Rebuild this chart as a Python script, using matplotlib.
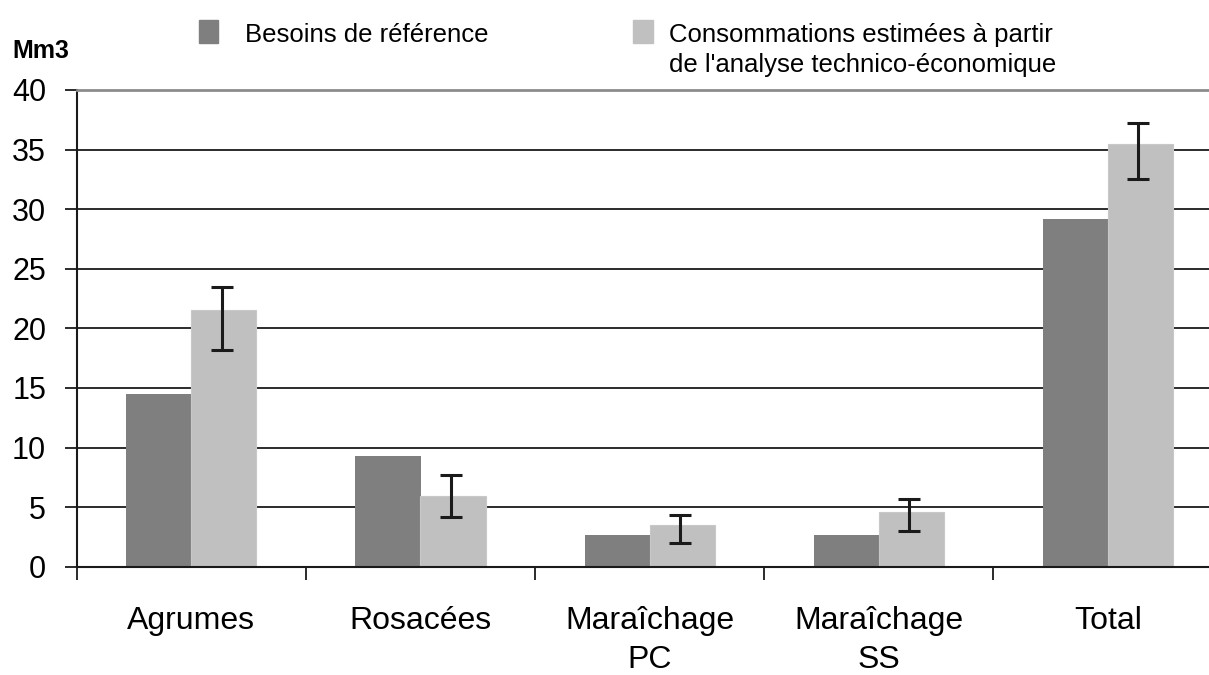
import matplotlib.pyplot as plt
from matplotlib.patches import Rectangle
import numpy as np

plt.rcParams["font.family"] = ["Liberation Sans", "DejaVu Sans"]

categories = ["Agrumes", "Rosacées", "Maraîchage\nPC", "Maraîchage\nSS", "Total"]
besoins_ref = [14.5, 9.3, 2.7, 2.7, 29.2]
conso_est = [21.5, 5.9, 3.5, 4.6, 35.5]
conso_low = [18.2, 4.2, 2.0, 3.0, 32.5]
conso_high = [23.5, 7.7, 4.35, 5.65, 37.2]

dark = "#7f7f7f"
light = "#c0c0c0"

W, H = 1209, 675
fig = plt.figure(figsize=(W / 100, H / 100), dpi=100)
# plot area runs slightly past the right edge of the figure
ax = fig.add_axes([76.7 / W, 1 - 566.7 / H, 1146 / W, (566.7 - 90) / H])

x = np.arange(len(categories))
bw = 0.284
est = np.array(conso_est)
yerr = [est - np.array(conso_low), np.array(conso_high) - est]

ax.bar(x - bw / 2, besoins_ref, bw, color=dark, zorder=2)
ax.bar(x + bw / 2, conso_est, bw, color=light, edgecolor="#c8c8c8", linewidth=0.8, zorder=2)
ax.errorbar(x + bw / 2 - 0.01, conso_est, yerr=yerr, fmt="none", ecolor="#1a1a1a",
            elinewidth=2.2, capsize=8, capthick=2.2, zorder=3)

ax.set_xlim(-0.5, len(categories) - 0.5)
ax.set_ylim(0, 40)
ax.set_yticks(range(0, 41, 5))
ax.yaxis.grid(True, color="#1a1a1a", linewidth=1.3, zorder=0)
ax.set_axisbelow(True)

ax.set_xticks(x)
ax.set_xticklabels(categories, fontsize=23, linespacing=1.42)
ax.set_xticks(np.arange(-0.5, len(categories)), minor=True)
ax.tick_params(axis="x", which="major", length=0, pad=28)
ax.tick_params(axis="x", which="minor", length=9, width=1.3, color="#1a1a1a")
ax.tick_params(axis="y", length=9, width=1.3, color="#1a1a1a", pad=13, labelsize=22)

ax.spines["right"].set_visible(False)
ax.spines["top"].set_color("#8c8c8c")
ax.spines["top"].set_linewidth(2)
for s in ["left", "bottom"]:
    ax.spines[s].set_linewidth(1.5)
    ax.spines[s].set_color("#1a1a1a")

fig.text(12 / W, 1 - 58 / H, "Mm3", fontsize=18, fontweight="bold", va="baseline")

# legend drawn in figure pixels
fig.patches.append(Rectangle((199 / W, 1 - 43 / H), 19 / W, 23 / H, color=dark,
                             transform=fig.transFigure, figure=fig))
fig.patches.append(Rectangle((633 / W, 1 - 43 / H), 20 / W, 23 / H, color=light,
                             transform=fig.transFigure, figure=fig))
fig.text(245 / W, 1 - 42 / H, "Besoins de référence", fontsize=18.5, va="baseline")
fig.text(669 / W, 1 - 42 / H, "Consommations estimées à partir", fontsize=18.5, va="baseline")
fig.text(669 / W, 1 - 72 / H, "de l'analyse technico-économique", fontsize=18.5, va="baseline")

fig.savefig("out.png", dpi=100)
